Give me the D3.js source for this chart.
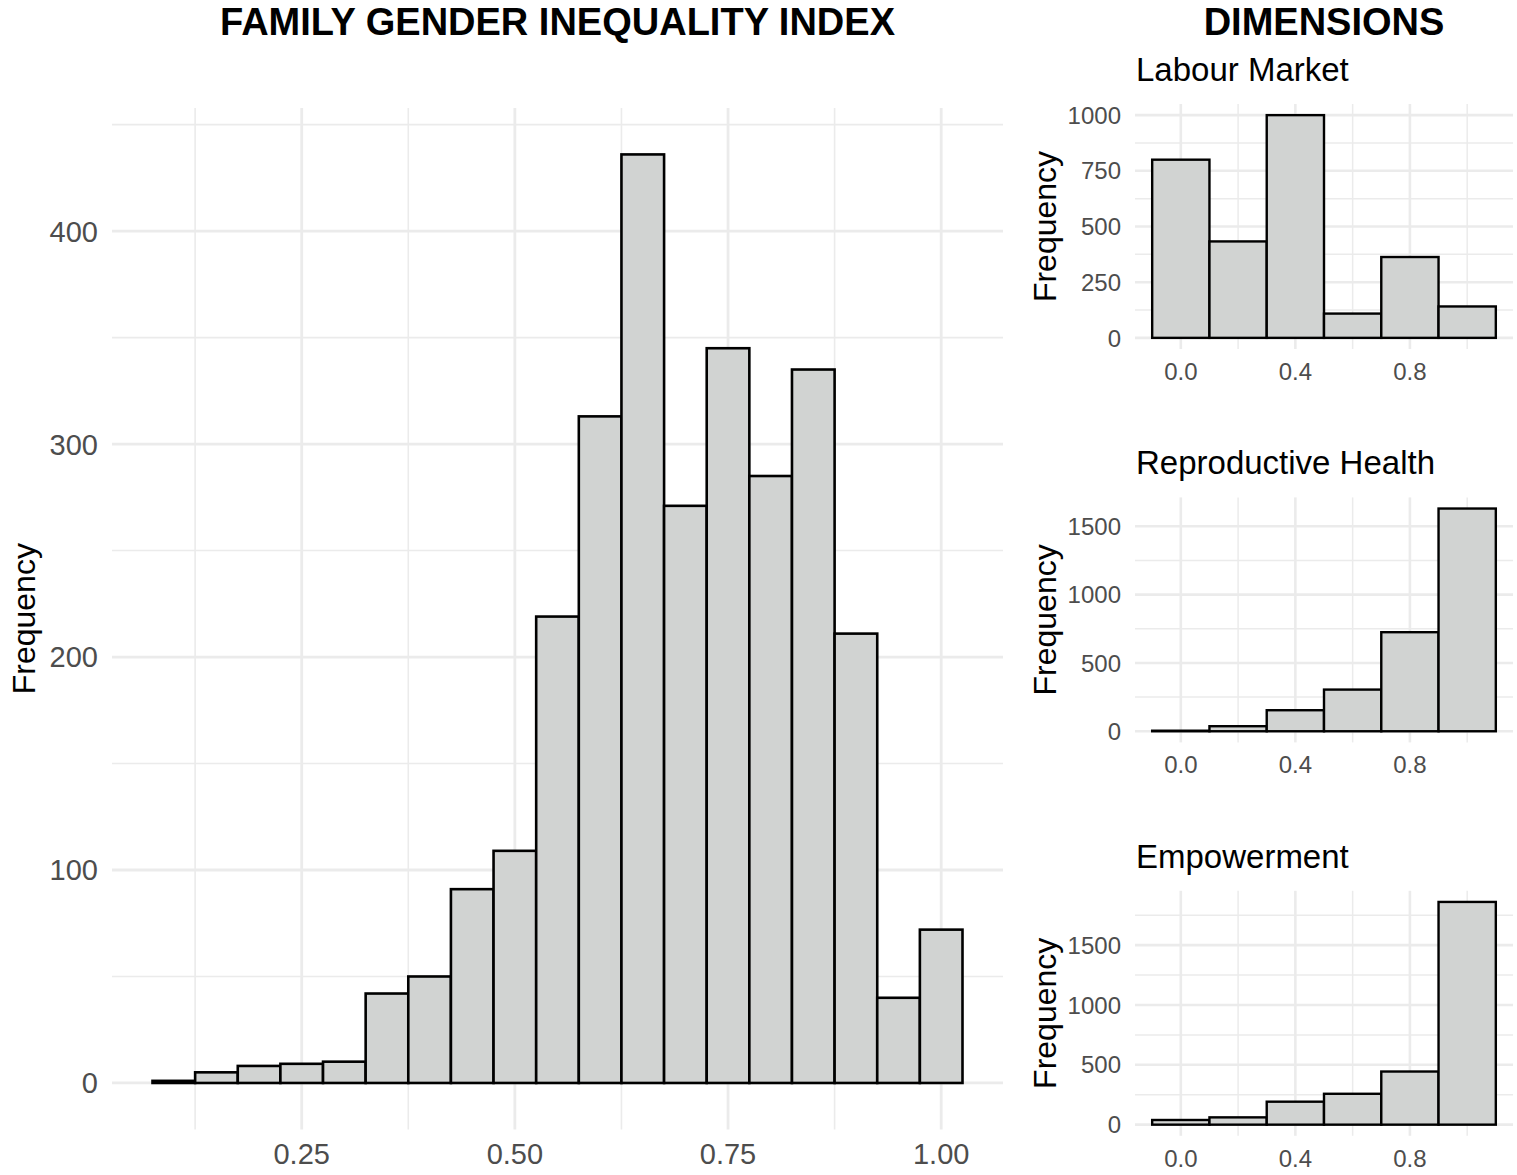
<!DOCTYPE html>
<html>
<head>
<meta charset="utf-8">
<script src="https://cdn.jsdelivr.net/npm/d3@7"></script>
<style>
  html, body { margin: 0; padding: 0; background: #ffffff; }
  svg { display: block; font-family: "Liberation Sans", Arial, Helvetica, sans-serif; }
</style>
</head>
<body>
<svg id="chart" width="1517" height="1175"></svg>
<script>
// ---------- Data ----------
const mainBinCenters = [0.10, 0.15, 0.20, 0.25, 0.30, 0.35, 0.40, 0.45, 0.50, 0.55, 0.60, 0.65, 0.70, 0.75, 0.80, 0.85, 0.90, 0.95, 1.00];
const mainCounts     = [1, 5, 8, 9, 10, 42, 50, 91, 109, 219, 313, 436, 271, 345, 285, 335, 211, 40, 72];
const mainBinWidth = 0.05;
const mainXTicks = [0.25, 0.50, 0.75, 1.00];
const mainXMinor = [0.125, 0.375, 0.625, 0.875];
const mainYTicks = [0, 100, 200, 300, 400];
const mainYMinor = [50, 150, 250, 350, 450];

const dimBinCenters = [0.0, 0.2, 0.4, 0.6, 0.8, 1.0];
const dimBinWidth = 0.2;
const labourCounts  = [800, 433, 1000, 109, 363, 141];
const reproCounts   = [4, 37, 154, 305, 725, 1630];
const empowerCounts = [39, 61, 192, 258, 444, 1861];
const dimNames = ["Labour Market", "Reproductive Health", "Empowerment"];
const dimXTicks = [0.0, 0.4, 0.8];
const dimXMinor = [0.2, 0.6, 1.0];
const labourYTicks = [0, 250, 500, 750, 1000];
const labourYMinor = [125, 375, 625, 875];
const reproYTicks = [0, 500, 1000, 1500];
const reproYMinor = [250, 750, 1250];
const empowerYTicks = [0, 500, 1000, 1500];
const empowerYMinor = [250, 750, 1250, 1750];

// ---------- Style ----------
const FILL = "#D1D3D2";
const GRID = "#EBEBEB";
const TICKCOL = "#4D4D4D";

const svg = d3.select("#chart");

function drawHist(g, opt) {
  const {x, y, left, right, top, bottom, centers, counts, width, xTicks, xMinor, yTicks, yMinor,
         xFmt, tickSize, strokeW, majorW, minorW, xLabelY, yLabelX, ytitleX, ytitleSize} = opt;
  // minor grid
  g.selectAll(null).data(xMinor).join("line")
    .attr("x1", d => x(d)).attr("x2", d => x(d)).attr("y1", top).attr("y2", bottom)
    .attr("stroke", GRID).attr("stroke-width", minorW);
  g.selectAll(null).data(yMinor).join("line")
    .attr("x1", left).attr("x2", right).attr("y1", d => y(d)).attr("y2", d => y(d))
    .attr("stroke", GRID).attr("stroke-width", minorW);
  // major grid
  g.selectAll(null).data(xTicks).join("line")
    .attr("x1", d => x(d)).attr("x2", d => x(d)).attr("y1", top).attr("y2", bottom)
    .attr("stroke", GRID).attr("stroke-width", majorW);
  g.selectAll(null).data(yTicks).join("line")
    .attr("x1", left).attr("x2", right).attr("y1", d => y(d)).attr("y2", d => y(d))
    .attr("stroke", GRID).attr("stroke-width", majorW);
  // bars
  g.selectAll(null).data(centers.map((c, i) => ({c, n: counts[i]}))).join("rect")
    .attr("x", d => x(d.c - width / 2))
    .attr("width", d => x(d.c + width / 2) - x(d.c - width / 2))
    .attr("y", d => y(d.n))
    .attr("height", d => y(0) - y(d.n))
    .attr("fill", FILL).attr("stroke", "#000").attr("stroke-width", strokeW);
  // x tick labels
  g.selectAll(null).data(xTicks).join("text")
    .attr("x", d => x(d)).attr("y", xLabelY)
    .attr("text-anchor", "middle").attr("fill", TICKCOL).attr("font-size", tickSize)
    .text(d => d3.format(xFmt)(d));
  // y tick labels
  g.selectAll(null).data(yTicks).join("text")
    .attr("x", yLabelX).attr("y", d => y(d)).attr("dy", "0.36em")
    .attr("text-anchor", "end").attr("fill", TICKCOL).attr("font-size", tickSize)
    .text(d => d3.format("d")(d));
  // y title
  g.append("text")
    .attr("transform", `translate(${ytitleX},${(top + bottom) / 2}) rotate(-90)`)
    .attr("text-anchor", "middle").attr("fill", "#000").attr("font-size", ytitleSize)
    .text("Frequency");
}

// ---------- Main histogram ----------
{
  const left = 112, right = 1003;
  const lo = mainBinCenters[0] - mainBinWidth / 2, hi = mainBinCenters[mainBinCenters.length - 1] + mainBinWidth / 2;
  const padX = (hi - lo) * 0.05;
  const x = d3.scaleLinear().domain([lo - padX, hi + padX]).range([left, right]);
  const maxC = d3.max(mainCounts);
  const y = d3.scaleLinear().domain([-maxC * 0.05, maxC * 1.05]).range([1129.4, 108]);
  const g = svg.append("g");
  drawHist(g, {x, y, left, right, top: 108, bottom: 1129.4, centers: mainBinCenters, counts: mainCounts,
    width: mainBinWidth, xTicks: mainXTicks, xMinor: mainXMinor, yTicks: mainYTicks, yMinor: mainYMinor,
    xFmt: ".2f", tickSize: 29, strokeW: 2.6, majorW: 2.8, minorW: 1.6, xLabelY: 1164, yLabelX: 98,
    ytitleX: 35, ytitleSize: 32});
  svg.append("text").attr("x", (left + right) / 2).attr("y", 35)
    .attr("text-anchor", "middle").attr("font-weight", "bold").attr("font-size", 38)
    .attr("fill", "#000").text("FAMILY GENDER INEQUALITY INDEX");
}

// ---------- Dimension histograms ----------
{
  const left = 1135, right = 1513;
  const lo = dimBinCenters[0] - dimBinWidth / 2, hi = dimBinCenters[dimBinCenters.length - 1] + dimBinWidth / 2;
  const padX = (hi - lo) * 0.05;
  const x = d3.scaleLinear().domain([lo - padX, hi + padX]).range([left, right]);
  const sets = [
    {counts: labourCounts, yTicks: labourYTicks, yMinor: labourYMinor},
    {counts: reproCounts, yTicks: reproYTicks, yMinor: reproYMinor},
    {counts: empowerCounts, yTicks: empowerYTicks, yMinor: empowerYMinor}
  ];
  const panelTop0 = 104, panelH = 245, step = 393.4;
  sets.forEach((s, i) => {
    const top = panelTop0 + i * step, bottom = top + panelH;
    const maxC = d3.max(s.counts);
    const y = d3.scaleLinear().domain([-maxC * 0.05, maxC * 1.05]).range([bottom, top]);
    const g = svg.append("g");
    drawHist(g, {x, y, left, right, top, bottom, centers: dimBinCenters, counts: s.counts,
      width: dimBinWidth, xTicks: dimXTicks, xMinor: dimXMinor, yTicks: s.yTicks, yMinor: s.yMinor,
      xFmt: ".1f", tickSize: 24, strokeW: 2.4, majorW: 2.6, minorW: 1.5, xLabelY: bottom + 31, yLabelX: 1121,
      ytitleX: 1056, ytitleSize: 32});
    svg.append("text").attr("x", 1136).attr("y", top - 23)
      .attr("text-anchor", "start").attr("font-size", 33).attr("fill", "#000").text(dimNames[i]);
  });
  svg.append("text").attr("x", (left + right) / 2).attr("y", 35)
    .attr("text-anchor", "middle").attr("font-weight", "bold").attr("font-size", 38)
    .attr("fill", "#000").text("DIMENSIONS");
}
</script>
</body>
</html>
